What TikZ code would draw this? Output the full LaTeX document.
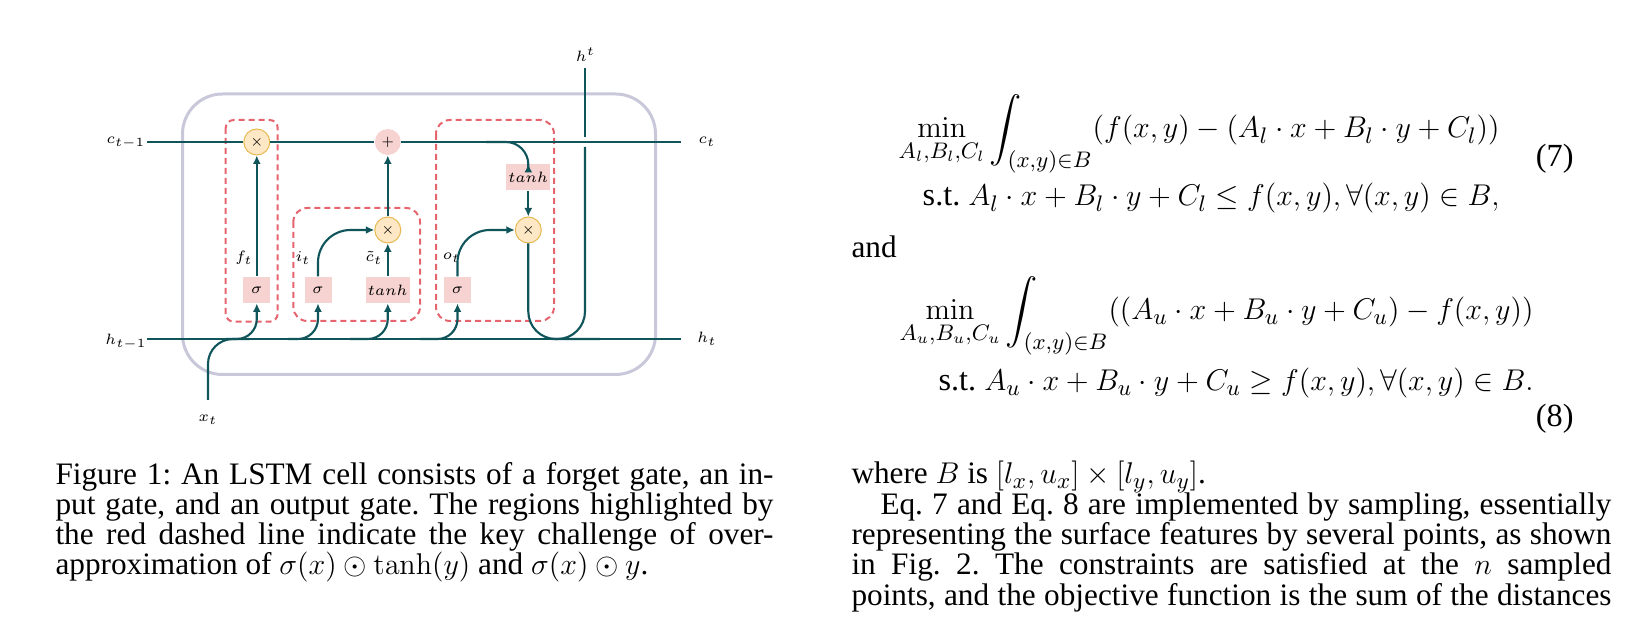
\documentclass[tikz,border=0pt]{standalone}
\usepackage{amsmath,amssymb}
\usepackage[no-math]{fontspec}
\setmainfont{Liberation Serif}
\usetikzlibrary{arrows.meta,calc}
\definecolor{teal1}{RGB}{16,85,90}
\definecolor{cellgray}{RGB}{200,200,218}
\definecolor{dashred}{RGB}{230,100,110}
\definecolor{opfill}{RGB}{253,231,196}
\definecolor{opdraw}{RGB}{230,185,80}
\definecolor{pinkfill}{RGB}{246,210,208}
\begin{document}
\begin{tikzpicture}[x=0.4pt,y=-0.4pt,
  conn/.style={draw=teal1,line width=0.85pt},
  arr/.style={conn,-{Latex[length=3.4pt,width=3.2pt]}},
  op/.style={circle,fill=opfill,draw=opdraw,line width=0.4pt,minimum size=10.4pt,inner sep=0pt,font=\fontsize{5}{5}\selectfont},
  addop/.style={circle,fill=pinkfill,minimum size=10.4pt,inner sep=0pt,font=\fontsize{5}{5}\selectfont},
  gate/.style={rectangle,fill=pinkfill,minimum width=10.8pt,minimum height=10.4pt,inner sep=0pt,font=\fontsize{6.5}{6.5}\selectfont},
  wgate/.style={gate,minimum width=17.6pt},
  lbl/.style={inner sep=0pt,font=\fontsize{6}{6}\selectfont},
  region/.style={draw=dashred,line width=0.8pt,dash pattern=on 2.4pt off 1.6pt},
  txt/.style={anchor=base west,inner sep=0pt,font=\fontsize{12.5}{15}\selectfont\frenchspacing},
  eqn/.style={txt,anchor=base east,font=\fontsize{12.9}{15}\selectfont\frenchspacing},
]
\useasboundingbox (0,0) rectangle (1625,617);

% cell
\draw[cellgray,line width=1.2pt,rounded corners=16pt] (182.5,94) rectangle (655.5,374.5);

% highlighted regions
\draw[region,rounded corners=3.2pt] (225.7,120) rectangle (277.7,321.7);
\draw[region,rounded corners=5.6pt] (293.3,208) rectangle (420,321);
\draw[region,rounded corners=5.6pt] (436,120) rectangle (554,321);

% operators and gates
\node[op] (mf) at (256.8,142) {$\times$};
\node[addop] (ad) at (387.8,142) {$+$};
\node[op] (mi) at (387.8,230) {$\times$};
\node[op] (mo) at (528.3,230) {$\times$};
\node[gate] (sf) at (256.8,290) {$\sigma$};
\node[gate] (si) at (318,290) {$\sigma$};
\node[wgate] (ti) at (387.8,290) {$tanh$};
\node[gate] (so) at (457.5,290) {$\sigma$};
\node[wgate] (to) at (528.3,177.5) {$tanh$};

% labels
\node[lbl] (lct1) at (126,143) {$c_{t-1}$};
\node[lbl] (lht1) at (126,342) {$h_{t-1}$};
\node[lbl] (lct) at (707,142) {$c_t$};
\node[lbl] (lht) at (707,339) {$h_t$};
\node[lbl] (lhtop) at (585.5,55) {$h^t$};
\node[lbl] (lxt) at (208,420) {$x_t$};
\node[lbl] (lft) at (244,258) {$f_t$};
\node[lbl] (lit) at (303,258) {$i_t$};
\node[lbl] (lctil) at (374,258) {$\tilde{c}_t$};
\node[lbl] (lot) at (451.7,258) {$o_t$};

% coordinates
\coordinate (cL) at (147,142);
\coordinate (cR) at (681,142);
\coordinate (hL) at (147,339);
\coordinate (hR) at (681,339);
\coordinate (xb) at (208,400);
\coordinate (xm) at (250,339);
\coordinate (htop) at (585,68);
\coordinate (hg1) at (585,147);
\coordinate (hg2) at (585,137);
\coordinate (hs) at (552,339);
\coordinate (mo2) at (600,339);
\coordinate (tb) at (486,142);
\coordinate (h1) at (226,339);
\coordinate (h2) at (288,339);
\coordinate (h3) at (350,339);
\coordinate (h4) at (420,339);

% connectors
\draw[conn] (cL) -- (mf.west);
\draw[conn] (mf.east) -- (ad.west);
\draw[conn] (ad.east) -- (cR);
\draw[conn] (hL) -- (hR);
\draw[arr] (sf.north) -- (mf.south);
\draw[arr,rounded corners=13pt] (si.north) |- (mi.west);
\draw[arr] (ti.north) -- (mi.south);
\draw[arr] (mi.north) -- (ad.south);
\draw[arr,rounded corners=13pt] (so.north) |- (mo.west);
\draw[arr] (to.south) -- (mo.north);
\draw[arr,rounded corners=9pt] (tb) -| (to.north);
\draw[conn,rounded corners=11pt] (mo.south) |- (mo2);
\draw[conn,rounded corners=11pt] (hs) -| (hg1);
\draw[conn] (hg2) -- (htop);
\draw[conn,rounded corners=10pt] (xb) |- (xm);
\draw[arr,rounded corners=8pt] (h1) -| (sf.south);
\draw[arr,rounded corners=8pt] (h2) -| (si.south);
\draw[arr,rounded corners=8pt] (h3) -| (ti.south);
\draw[arr,rounded corners=8pt] (h4) -| (so.south);

% caption
\node[txt] (cap1) at (55,485) {\makebox[287.2pt][s]{Figure 1: An LSTM cell consists of a forget gate, an in-}};
\node[txt] (cap2) at (55,515) {\makebox[287.2pt][s]{put gate, and an output gate. The regions highlighted by}};
\node[txt] (cap3) at (55,545) {\makebox[287.2pt][s]{the red dashed line indicate the key challenge of over-}};
\node[txt] (cap4) at (55,575) {approximation of $\sigma(x)\odot\tanh(y)$ and $\sigma(x)\odot y$.};

% equations
\node[eqn] (eq7a) at (1500,138) {$\displaystyle\min_{A_l,B_l,C_l}\int_{(x,y)\in B}(f(x,y)-(A_l\cdot x+B_l\cdot y+C_l))$};
\node[eqn] (eq7b) at (1500,206) {s.t.\ $A_l\cdot x+B_l\cdot y+C_l\le f(x,y),\forall(x,y)\in B,$};
\node[eqn] (n7) at (1574,167) {(7)};
\node[txt] (and) at (851,258) {and};
\node[eqn] (eq8a) at (1534,320) {$\displaystyle\min_{A_u,B_u,C_u}\int_{(x,y)\in B}((A_u\cdot x+B_u\cdot y+C_u)-f(x,y))$};
\node[eqn] (eq8b) at (1534,391) {s.t.\ $A_u\cdot x+B_u\cdot y+C_u\ge f(x,y),\forall(x,y)\in B.$};
\node[eqn] (n8) at (1574,427) {(8)};

% right column text
\node[txt] (r1) at (851,484) {where $B$ is $[l_x,u_x]\times[l_y,u_y]$.};
\node[txt] (r2) at (880,515) {\makebox[292.4pt][s]{Eq. 7 and Eq. 8 are implemented by sampling, essentially}};
\node[txt] (r3) at (851,545) {\makebox[304pt][s]{representing the surface features by several points, as shown}};
\node[txt] (r4) at (851,575) {\makebox[304pt][s]{in Fig. 2. The constraints are satisfied at the $n$ sampled}};
\node[txt] (r5) at (851,606) {\makebox[304pt][s]{points, and the objective function is the sum of the distances}};
\end{tikzpicture}
\end{document}
